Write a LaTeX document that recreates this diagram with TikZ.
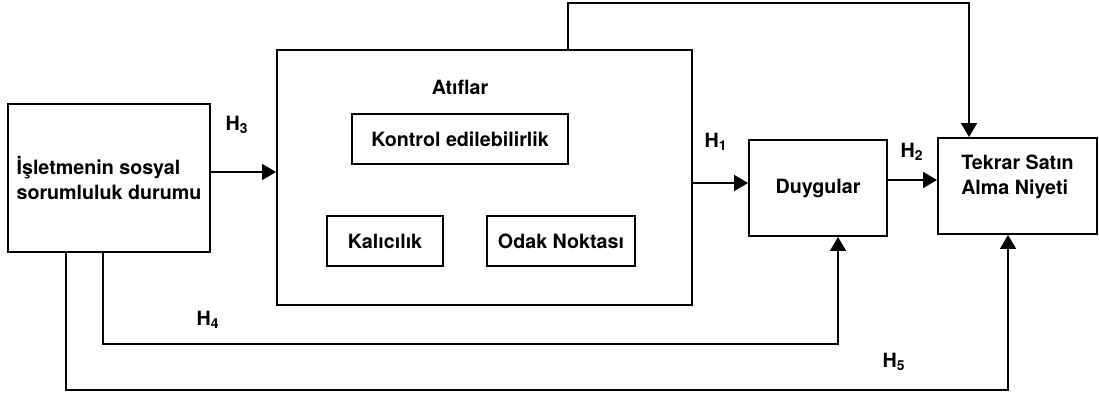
\documentclass[tikz,border=0pt]{standalone}
\usepackage{fontspec}
\setmainfont{TeX Gyre Heros}
\usetikzlibrary{arrows.meta}
\makeatletter
\renewcommand\small{%
  \@setfontsize\small{11.2pt}{14.2pt}%
}
\makeatother

\begin{document}
\begin{tikzpicture}[>={Triangle[length=0.28cm,width=0.32cm]}, line width=1pt,
  every node/.style={font=\small\bfseries},
  kutu/.style={draw, line width=1.1pt, inner sep=0pt},
  altkutu/.style={draw, line width=0.7pt, inner sep=0pt, minimum height=1cm}]
  \useasboundingbox (0,0) rectangle (21.98,7.92);
  \node[kutu, align=left, minimum width=4.04cm, minimum height=2.96cm] (isl) at (2.18,4.36) {İşletmenin sosyal\\sorumluluk durumu};
  \node[kutu, minimum width=8.3cm, minimum height=5.1cm] (atif) at (9.69,4.37) {};
  \node (baslik) at (9.2,6.18) {Atıflar};
  \node[altkutu, minimum width=4.32cm] (kontrol) at (9.2,5.14) {Kontrol edilebilirlik};
  \node[altkutu, minimum width=2.32cm] (kalici) at (7.7,3.1) {Kalıcılık};
  \node[altkutu, minimum width=2.96cm] (odak) at (11.22,3.1) {Odak Noktası};
  \node[kutu, minimum width=2.76cm, minimum height=1.92cm] (duy) at (16.36,4.16) {Duygular};
  \node[kutu, align=left, text depth=0.46cm, minimum width=3.18cm, minimum height=1.92cm] (niyet) at (20.35,4.2) {Tekrar Satın\\Alma Niyeti};
  % etiketler
  \node (h1) at (14.32,5.08) {H\textsubscript{1}};
  \node (h2) at (18.24,4.88) {H\textsubscript{2}};
  \node (h3) at (4.74,5.42) {H\textsubscript{3}};
  \node (h4) at (4.16,1.52) {H\textsubscript{4}};
  \node (h5) at (17.88,0.68) {H\textsubscript{5}};
  % oklar
  \draw[->] ([yshift=0.12cm]isl.east) -- ([yshift=0.12cm]isl.east -| atif.west);
  \draw[->] ([yshift=0.1cm]duy.west -| atif.east) -- ([yshift=0.1cm]duy.west);
  \draw[->] ([yshift=0.16cm]duy.east) -- ([yshift=0.16cm]duy.east -| niyet.west);
  \coordinate (ust) at (19.38,7.86);
  \draw[->] ([xshift=1.67cm]atif.north) |- (ust) -- (ust |- niyet.north);
  \coordinate (alt4) at (16.76,1.04);
  \draw[->, line width=0.9pt] ([xshift=-0.12cm]isl.south) |- (alt4) -- (alt4 |- duy.south);
  \coordinate (alt5) at (20.16,0.12);
  \draw[->, line width=0.9pt] ([xshift=-0.86cm]isl.south) |- (alt5) -- (alt5 |- niyet.south);
\end{tikzpicture}
\end{document}
